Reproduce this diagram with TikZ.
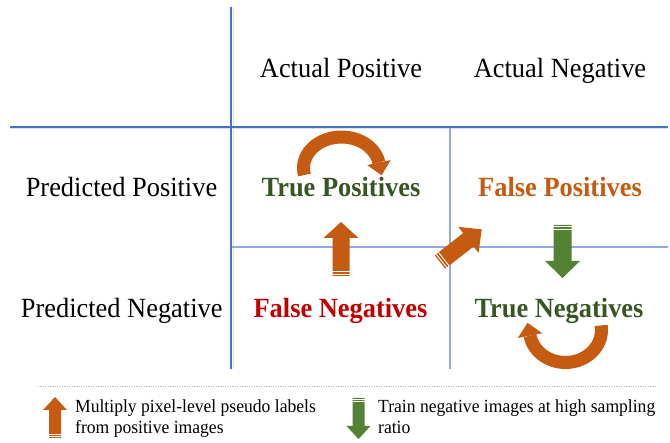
\documentclass[tikz,border=0pt]{standalone}
\usepackage{fontspec}
\setmainfont{Liberation Serif}
\usepackage{graphicx}
\definecolor{blueA}{HTML}{4472C4}
\definecolor{blueB}{HTML}{8FAADC}
\definecolor{orangeA}{HTML}{C55A11}
\definecolor{greenA}{HTML}{548235}
\definecolor{greenT}{HTML}{375623}
\definecolor{redT}{HTML}{C00000}
\definecolor{dotgray}{HTML}{BFBFBF}
\newcommand{\sq}[1]{\scalebox{0.95}[1]{#1}}
% striped block arrow: colour, tail "x,y", rotation, length, shaft width, head width, head length
\newcommand{\sarrow}[7]{%
  \begin{scope}[shift={(#2)},rotate=#3]
    \pgfmathsetmacro{\sAx}{#4-#7}%
    \pgfmathsetmacro{\sWx}{#5/2}%
    \pgfmathsetmacro{\sHx}{#6/2}%
    \fill[#1] (0,-\sWx) -- (\sAx,-\sWx) -- (\sAx,-\sHx) -- (#4,0) -- (\sAx,\sHx) -- (\sAx,\sWx) -- (0,\sWx) -- cycle;
    \pgfmathsetmacro{\sSa}{#4*0.035}%
    \pgfmathsetmacro{\sSb}{#4*0.09}%
    \draw[white,line width=0.9pt] (\sSa,-\sWx-0.5) -- (\sSa,\sWx+0.5) (\sSb,-\sWx-0.5) -- (\sSb,\sWx+0.5);
  \end{scope}}
\begin{document}
\begin{tikzpicture}[x=1pt,y=-1pt,
  lbl/.style={anchor=base, inner sep=0pt, font=\fontsize{27.8}{30}\selectfont},
  cell/.style={lbl, font=\fontsize{27.8}{30}\selectfont\bfseries},
  leg/.style={anchor=base west, inner sep=0pt, font=\fontsize{18.5}{21}\selectfont},
  thickgrid/.style={blueA, line width=2pt},
  thingrid/.style={blueB, line width=1.8pt},
  shadow/.style={black!12, line width=1pt},
  curved/.style={orangeA, line width=13pt}]
\useasboundingbox (0,0) rectangle (670,443);

% grid
\draw[shadow] (10,129) -- (668,129);
\draw[shadow] (233,7) -- (233,369);
\draw[thingrid] (450,127) -- (450,369);
\draw[thingrid] (231,247) -- (668,247);
\draw[thickgrid] (231,7) -- (231,369);
\draw[thickgrid] (10,127) -- (668,127);

% headers
\node[lbl] (ap) at (341,78) {\sq{Actual Positive}};
\node[lbl] (an) at (560,78) {\sq{Actual Negative}};
\node[lbl] (pp) at (121.5,197) {\sq{Predicted Positive}};
\node[lbl] (pn) at (121.7,318) {\sq{Predicted Negative}};

% cells
\node[cell, text=greenT] (tp) at (341,197) {\sq{True Positives}};
\node[cell, text=orangeA] (fp) at (560,197) {\sq{False Positives}};
\node[cell, text=redT] (fn) at (340.5,318) {\sq{False Negatives}};
\node[cell, text=greenT] (tn) at (559,318) {\sq{True Negatives}};

% curved arrow above True Positives
\draw[curved] (304.47,174.97) arc[start angle=167, end angle=350, x radius=38, y radius=31];
\fill[orangeA] (381.6,175.3) -- (390.6,160.1) -- (367.2,165.1) -- cycle;

% curved arrow below True Negatives
\draw[curved] (601.15,325.48) arc[start angle=-8, end angle=170, x radius=36, y radius=32.5];
\fill[orangeA] (527.55,322.85) -- (542.3,333.2) -- (517.8,338.0) -- cycle;

% straight striped arrows
\sarrow{orangeA}{341,276}{90}{54}{17}{35}{16}
\sarrow{orangeA}{440,262}{38}{53}{17}{33}{17}
\sarrow{greenA}{562.5,225}{-90}{53}{18}{35}{17}

% legend
\draw[dotgray, line width=1pt, dash pattern=on 1.2pt off 1.2pt] (38,387) -- (655,387);
\sarrow{orangeA}{55,438}{90}{41}{12}{24}{13}
\sarrow{greenA}{358.5,398}{-90}{41}{12}{24}{13}
\node[leg] (l1) at (75,413) {\sq{\begin{tabular}[t]{@{}l@{}}Multiply pixel-level pseudo labels\\ from positive images\end{tabular}}};
\node[leg] (l2) at (378,413) {\sq{\begin{tabular}[t]{@{}l@{}}Train negative images at high sampling\\ ratio\end{tabular}}};
\end{tikzpicture}
\end{document}
